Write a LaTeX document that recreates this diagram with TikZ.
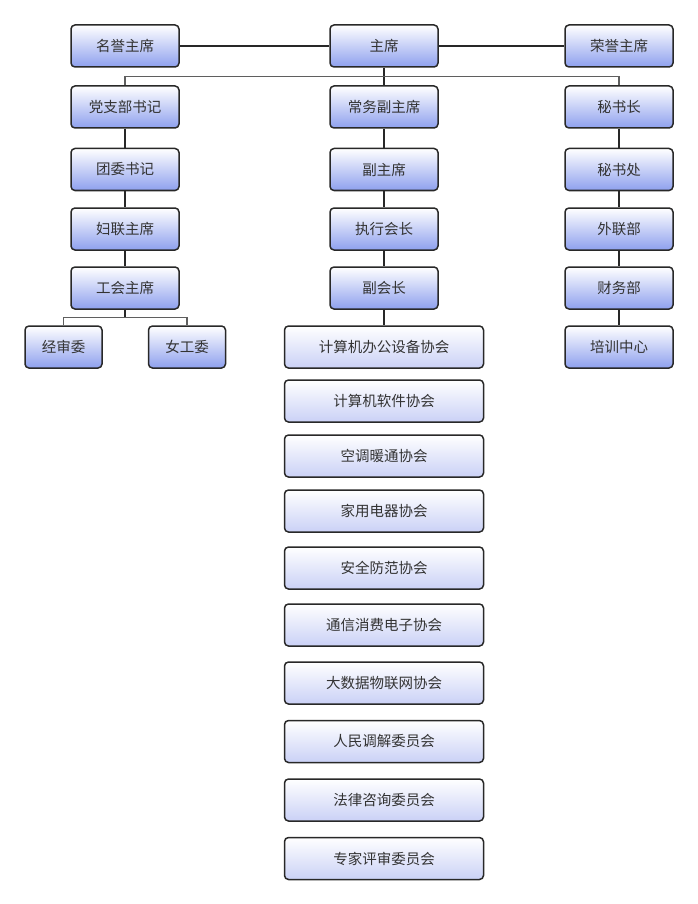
\documentclass[tikz,border=0pt]{standalone}
\usepackage{fontspec}
\setmainfont{Noto Sans CJK SC}
\usetikzlibrary{positioning,calc}

\definecolor{boxblue}{RGB}{142,160,238}
\definecolor{boxpale}{RGB}{202,209,246}
\definecolor{linedark}{RGB}{40,40,40}
\definecolor{busgray}{RGB}{95,95,95}
\definecolor{textgray}{RGB}{51,51,51}

\begin{document}
\begin{tikzpicture}[%
		x=1pt, y=-1pt,
		post/.style={
			rectangle,
			rounded corners=4pt,
			draw=linedark,
			line width=1.5pt,
			top color=white,
			bottom color=boxblue,
			minimum width=108pt,
			minimum height=42pt,
			inner sep=0pt,
			text=textgray,
			font=\fontsize{14.5}{16}\selectfont
		},
		smallpost/.style={
			post,
			minimum width=77pt
		},
		society/.style={
			post,
			bottom color=boxpale,
			minimum width=199pt
		},
		link/.style={
			draw=linedark,
			line width=1.5pt
		},
		bus/.style={
			draw=busgray,
			line width=1.8pt
		}]

		\useasboundingbox (0,0) rectangle (697,904);

		% TOP ROW

		\node (hon-L) [post] at (125,46) {名誉主席};
		\node (chair) [post] at (384,46) {主席};
		\node (hon-R) [post] at (619,46) {荣誉主席};

		% LEFT COLUMN

		\node (party) [post] at (125,107) {党支部书记};
		\node (youth) [post] at (125,169.5) {团委书记};
		\node (women) [post] at (125,229) {妇联主席};
		\node (union) [post] at (125,288) {工会主席};
		\node (audit) [smallpost] at (63.5,347) {经审委};
		\node (female) [smallpost] at (187,347) {女工委};

		% CENTRE COLUMN

		\node (vice) [post] at (384,107) {常务副主席};
		\node (deputy) [post] at (384,169.5) {副主席};
		\node (exec) [post] at (384,229) {执行会长};
		\node (vp) [post] at (384,288) {副会长};

		\node (soc-1) [society] at (384,347) {计算机办公设备协会};
		\node (soc-2) [society] at (384,401) {计算机软件协会};
		\node (soc-3) [society] at (384,456) {空调暖通协会};
		\node (soc-4) [society] at (384,511) {家用电器协会};
		\node (soc-5) [society] at (384,568) {安全防范协会};
		\node (soc-6) [society] at (384,625) {通信消费电子协会};
		\node (soc-7) [society] at (384,683) {大数据物联网协会};
		\node (soc-8) [society] at (384,741.5) {人民调解委员会};
		\node (soc-9) [society] at (384,800) {法律咨询委员会};
		\node (soc-10) [society] at (384,858.5) {专家评审委员会};

		% RIGHT COLUMN

		\node (secgen) [post] at (619,107) {秘书长};
		\node (secoff) [post] at (619,169.5) {秘书处};
		\node (liaison) [post] at (619,229) {外联部};
		\node (finance) [post] at (619,288) {财务部};
		\node (training) [post] at (619,347) {培训中心};

		% BUS POINTS

		\coordinate (top-bus) at ($(chair.south) !.5! (vice.north)$);
		\coordinate (union-bus) at ($(union.south) !.5! (union.south |- audit.north)$);

		% LINES

		\draw[link] (hon-L) -- (chair);
		\draw[link] (chair) -- (hon-R);
		\draw[link] (chair) -- (vice);
		\draw[bus] (party.north) |- (top-bus) -| (secgen.north);

		\draw[link] (party) -- (youth);
		\draw[link] (youth) -- (women);
		\draw[link] (women) -- (union);
		\draw[link] (union.south) -- (union-bus);
		\draw[bus] (audit.north) |- (union-bus) -| (female.north);

		\draw[link] (vice) -- (deputy);
		\draw[link] (deputy) -- (exec);
		\draw[link] (exec) -- (vp);
		\draw[link] (vp) -- (soc-1);

		\draw[link] (secgen) -- (secoff);
		\draw[link] (secoff) -- (liaison);
		\draw[link] (liaison) -- (finance);
		\draw[link] (finance) -- (training);
\end{tikzpicture}
\end{document}
